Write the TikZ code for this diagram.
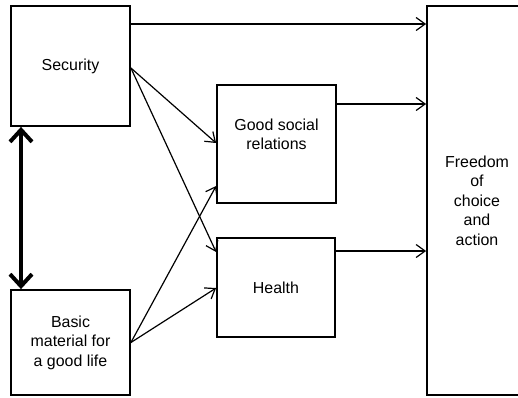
\documentclass[tikz,border=0pt]{standalone}
\usepackage{fontspec}
\setmainfont{Liberation Sans}
\usetikzlibrary{arrows.meta}
\begin{document}
\begin{tikzpicture}[x=1bp,y=-1bp,
  box/.style={draw,line width=1.8bp,rectangle,inner sep=0pt,align=center,
    font=\fontsize{16}{19.5}\selectfont},
  conn/.style={line width=1.2bp,-{Straight Barb[length=9bp,width=13bp,line width=1.2bp]}},
  bigconn/.style={line width=4bp,{Straight Barb[length=12bp,width=22bp,line width=4bp]}-{Straight Barb[length=12bp,width=22bp,line width=4bp]}}]
\clip (0,0) rectangle (518,397);
\fill[white] (0,0) rectangle (518,397);
\node[box,minimum width=119bp,minimum height=120bp] (sec) at (70.5,66) {Security};
\node[box,minimum width=119bp,minimum height=105bp] (bas) at (70.5,342.5) {Basic\\material for\\a good life};
\node[box,minimum width=119bp,minimum height=118bp,text height=0pt] (gsr) at (276.5,144) {};
\node[font=\fontsize{16}{19.5}\selectfont,align=center,inner sep=0pt] (gsrt) at (276.5,134.5) {Good social\\relations};
\node[box,minimum width=118bp,minimum height=99bp] (hea) at (276,287.5) {Health};
\node[box,minimum width=100bp,minimum height=389bp] (fre) at (477,200.5) {Freedom\\of\\choice\\and\\action};
\draw[conn] (sec.east |- 0,24) -- (fre.west |- 0,24);
\draw[conn] (gsr.east |- 0,104) -- (fre.west |- 0,104);
\draw[conn] (hea.east |- 0,251) -- (fre.west |- 0,251);
\draw[conn] ([yshift=-2bp]sec.east) -- (gsr.west |- 0,143);
\draw[conn] ([yshift=-2bp]sec.east) -- (hea.west |- 0,252);
\draw[conn] (bas.east) -- (gsr.west |- 0,186);
\draw[conn] (bas.east) -- (hea.west |- 0,288);
\draw[bigconn] (sec.south -| 21,0) -- (bas.north -| 21,0);
\end{tikzpicture}
\end{document}
